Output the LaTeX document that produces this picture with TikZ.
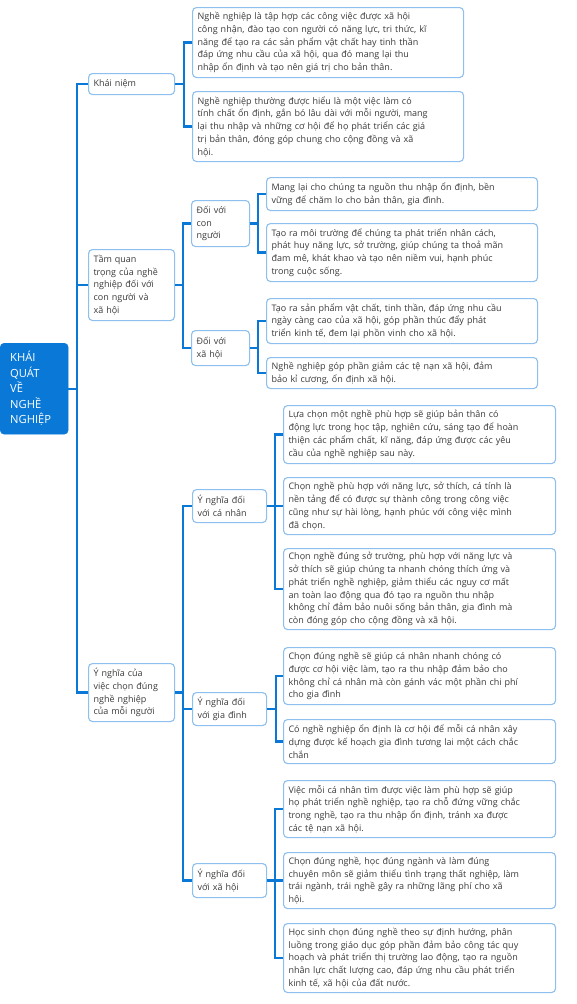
\documentclass[tikz,border=0pt]{standalone}
\usepackage{fontspec}
\setmainfont{Open Sans}
\definecolor{conn}{HTML}{0A78D7}
\definecolor{boxc}{HTML}{8DC0EE}
\definecolor{txt}{HTML}{3A3A3A}
\definecolor{rootc}{HTML}{0A78D7}
\newcommand\fsleaf{\fontsize{9}{12.8}\selectfont}
\newcommand\fsroot{\fontsize{11.2}{15.5}\selectfont}
\tikzset{
  box/.style={draw=boxc, line width=1.1pt, rounded corners=4pt, fill=white, align=left,
    anchor=north west, inner xsep=5pt, inner ysep=2pt, text=txt, font=\fsleaf},
  rootbox/.style={fill=rootc, draw=rootc, rounded corners=4pt, align=left, anchor=north west,
    inner xsep=10pt, text=white, font=\fsroot, text width=48pt, minimum height=91pt},
  lvA/.style={box, text width=76pt},
  lvB/.style={box, text width=48pt},
  lvC/.style={box, text width=64pt},
  wide/.style={box, text width=261pt},
  wider/.style={box, text width=262pt},
  wire/.style={draw=conn, line width=2.2pt}
}
\begin{document}
\begin{tikzpicture}[x=1pt,y=-1pt]
\useasboundingbox (0,0) rectangle (577,1004);
% root
\node[rootbox] (root) at (0,343) {KHÁI\\QUÁT\\VỀ\\NGHỀ\\NGHIỆP};
% level 1
\node[lvA, minimum height=21pt] (ka) at (88,73) {Khái niệm};
\node[lvA, minimum height=71pt] (tq) at (88,249) {Tầm quan\\trọng của nghề\\nghiệp đối với\\con người và\\xã hội};
\node[lvA, minimum height=58pt] (yn) at (88,663) {Ý nghĩa của\\việc chọn đúng\\nghề nghiệp\\của mỗi người};
% level 2
\node[lvB, minimum height=46pt] (cn) at (191,200) {Đối với\\con\\người};
\node[lvB, minimum height=35pt] (xh) at (191,330) {Đối với\\xã hội};
\node[lvC, minimum height=33pt] (ca) at (192,489) {Ý nghĩa đối\\với cá nhân};
\node[lvC, minimum height=33pt] (gd) at (192,692) {Ý nghĩa đối\\với gia đình};
\node[lvC, minimum height=34pt] (sx) at (192,863) {Ý nghĩa đối\\với xã hội};
% leaves: khai niem
\node[wide, minimum height=70pt] (k1) at (192,7) {Nghề nghiệp là tập hợp các công việc được xã hội\\công nhận, đào tạo con người có năng lực, tri thức, kĩ\\năng để tạo ra các sản phẩm vật chất hay tinh thần\\đáp ứng nhu cầu của xã hội, qua đó mang lại thu\\nhập ổn định và tạo nên giá trị cho bản thân.};
\node[wide, minimum height=70pt] (k2) at (192,91) {Nghề nghiệp thường được hiểu là một việc làm có\\tính chất ổn định, gắn bó lâu dài với mỗi người, mang\\lại thu nhập và những cơ hội để họ phát triển các giá\\trị bản thân, đóng góp chung cho cộng đồng và xã\\hội.};
% con nguoi
\node[wide, minimum height=33pt] (c1) at (266,177) {Mang lại cho chúng ta nguồn thu nhập ổn định, bền\\vững để chăm lo cho bản thân, gia đình.};
\node[wide, minimum height=58pt] (c2) at (266,223) {Tạo ra môi trường để chúng ta phát triển nhân cách,\\phát huy năng lực, sở trường, giúp chúng ta thoả mãn\\đam mê, khát khao và tạo nên niềm vui, hạnh phúc\\trong cuộc sống.};
% xa hoi
\node[wide, minimum height=45pt] (x1) at (266,298) {Tạo ra sản phẩm vật chất, tinh thần, đáp ứng nhu cầu\\ngày càng cao của xã hội, góp phần thúc đẩy phát\\triển kinh tế, đem lại phồn vinh cho xã hội.};
\node[wide, minimum height=31pt] (x2) at (266,357) {Nghề nghiệp góp phần giảm các tệ nạn xã hội, đảm\\bảo kỉ cương, ổn định xã hội.};
% ca nhan
\node[wider, minimum height=58pt] (n1) at (283,405) {Lựa chọn một nghề phù hợp sẽ giúp bản thân có\\động lực trong học tập, nghiên cứu, sáng tạo để hoàn\\thiện các phẩm chất, kĩ năng, đáp ứng được các yêu\\cầu của nghề nghiệp sau này.};
\node[wider, minimum height=57pt] (n2) at (283,477) {Chọn nghề phù hợp với năng lực, sở thích, cá tính là\\nền tảng để có được sự thành công trong công việc\\cũng như sự hài lòng, hạnh phúc với công việc mình\\đã chọn.};
\node[wider, minimum height=81pt] (n3) at (283,548) {Chọn nghề đúng sở trường, phù hợp với năng lực và\\sở thích sẽ giúp chúng ta nhanh chóng thích ứng và\\phát triển nghề nghiệp, giảm thiểu các nguy cơ mất\\an toàn lao động qua đó tạo ra nguồn thu nhập\\không chỉ đảm bảo nuôi sống bản thân, gia đình mà\\còn đóng góp cho cộng đồng và xã hội.};
% gia dinh
\node[wider, minimum height=57pt] (g1) at (283,647) {Chọn đúng nghề sẽ giúp cá nhân nhanh chóng có\\được cơ hội việc làm, tạo ra thu nhập đảm bảo cho\\không chỉ cá nhân mà còn gánh vác một phần chi phí\\cho gia đình};
\node[wider, minimum height=44pt] (g2) at (283,719) {Có nghề nghiệp ổn định là cơ hội để mỗi cá nhân xây\\dựng được kế hoạch gia đình tương lai một cách chắc\\chắn};
% xa hoi (y nghia)
\node[wider, minimum height=57pt] (s1) at (283,780) {Việc mỗi cá nhân tìm được việc làm phù hợp sẽ giúp\\họ phát triển nghề nghiệp, tạo ra chỗ đứng vững chắc\\trong nghề, tạo ra thu nhập ổn định, tránh xa được\\các tệ nạn xã hội.};
\node[wider, minimum height=56pt] (s2) at (283,852) {Chọn đúng nghề, học đúng ngành và làm đúng\\chuyên môn sẽ giảm thiểu tình trạng thất nghiệp, làm\\trái ngành, trái nghề gây ra những lãng phí cho xã\\hội.};
\node[wider, minimum height=69pt] (s3) at (283,923) {Học sinh chọn đúng nghề theo sự định hướng, phân\\luồng trong giáo dục góp phần đảm bảo công tác quy\\hoạch và phát triển thị trường lao động, tạo ra nguồn\\nhân lực chất lượng cao, đáp ứng nhu cầu phát triển\\kinh tế, xã hội của đất nước.};
% connectors
\foreach \c in {ka,tq,yn} \draw[wire] (root.east) -- ++(8.5,0) |- (\c.west);
\foreach \c in {k1,k2} \draw[wire] (ka.east) -- ++(9,0) |- (\c.west);
\foreach \c in {cn,xh} \draw[wire] (tq.east) -- ++(8,0) |- (\c.west);
\foreach \c in {c1,c2} \draw[wire] (cn.east) -- ++(8,0) |- (\c.west);
\foreach \c in {x1,x2} \draw[wire] (xh.east) -- ++(8,0) |- (\c.west);
\foreach \c in {ca,gd,sx} \draw[wire] (yn.east) -- ++(8,0) |- (\c.west);
\foreach \c in {n1,n2,n3} \draw[wire] (ca.east) -- ++(8,0) |- (\c.west);
\foreach \c in {g1,g2} \draw[wire] (gd.east) -- ++(9,0) |- (\c.west);
\foreach \c in {s1,s2,s3} \draw[wire] (sx.east) -- ++(8,0) |- (\c.west);
\end{tikzpicture}
\end{document}
